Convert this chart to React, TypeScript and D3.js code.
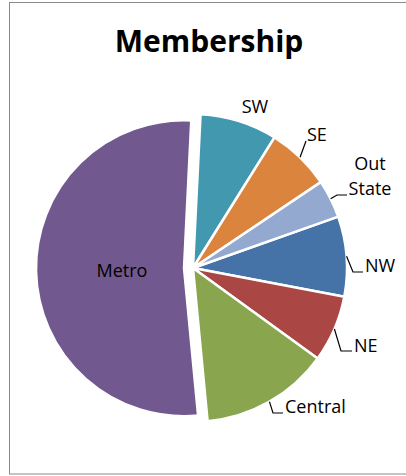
import React from "react";
import * as d3 from "d3";

const categories = ["NW", "NE", "Central", "Metro", "SW", "SE", "Out State"];
const values = [8.4, 7.0, 13.5, 52.3, 8.1, 6.7, 4.0];
const colors = ["#4572A7", "#AA4643", "#89A54E", "#71588F", "#4198AF", "#DB843D", "#93A9CF"];
const title = "Membership";

// layout (not data)
const W = 406;
const H = 476;
const CX = 193;
const CY = 268;
const R = 154;
const EXPLODED = "Metro";
const EXPLODE_OFFSET = 9;
const EXPLODED_R = 148;
const START_DEG = 70.5;

type LabelLayout = {
  x: number;
  y: number;
  anchor: "start" | "middle" | "end";
  lines: string[];
  leader?: { ex: number; ey: number; knee: number };
};

const labelLayout: Record<string, LabelLayout> = {
  NW: { x: 365, y: 272, anchor: "start", lines: ["NW"], leader: { ex: 363, ey: 272, knee: 10 } },
  NE: { x: 354, y: 352, anchor: "start", lines: ["NE"], leader: { ex: 352, ey: 351, knee: 11 } },
  Central: { x: 285, y: 413, anchor: "start", lines: ["Central"], leader: { ex: 283, ey: 413, knee: 10 } },
  Metro: { x: 122, y: 277, anchor: "middle", lines: ["Metro"] },
  SW: { x: 255, y: 113, anchor: "middle", lines: ["SW"] },
  SE: { x: 307, y: 141, anchor: "start", lines: ["SE"], leader: { ex: 306, ey: 141, knee: 0 } },
  "Out State": { x: 370, y: 170, anchor: "middle", lines: ["Out", "State"], leader: { ex: 347, ey: 195, knee: 10 } },
};

const FONT = "'Open Sans', 'Noto Sans', sans-serif";

export default function App() {
  const pie = d3
    .pie<number>()
    .sort(null)
    .value((d) => d)
    .startAngle((START_DEG * Math.PI) / 180)
    .endAngle((START_DEG * Math.PI) / 180 + 2 * Math.PI);
  const arcs = pie(values);
  const arc = d3.arc<d3.PieArcDatum<number>>().innerRadius(0).outerRadius(R);
  const arcEx = d3.arc<d3.PieArcDatum<number>>().innerRadius(0).outerRadius(EXPLODED_R);

  return (
    <div style={{ position: "absolute", left: 0, top: 0 }}>
      <svg width={W} height={H} style={{ display: "block" }}>
        <rect x={0} y={0} width={W} height={H} fill="#ffffff" />
        <rect x={9.5} y={2.5} width={420} height={471.5} fill="none" stroke="#8a8a8a" strokeWidth={1} />
        <text
          x={209}
          y={52}
          textAnchor="middle"
          fontFamily={FONT}
          fontWeight={700}
          fontSize={30}
          fill="#000"
        >
          {title}
        </text>
        <g>
          {arcs.map((a, i) => {
            const name = categories[i];
            const mid = (a.startAngle + a.endAngle) / 2;
            const isEx = name === EXPLODED;
            const dx = isEx ? EXPLODE_OFFSET * Math.sin(mid) : 0;
            const dy = isEx ? -EXPLODE_OFFSET * Math.cos(mid) : 0;
            return (
              <path
                key={name}
                d={(isEx ? arcEx(a) : arc(a)) || ""}
                transform={`translate(${CX + dx},${CY + dy})`}
                fill={colors[i]}
                stroke="#ffffff"
                strokeWidth={2.5}
                strokeLinejoin="round"
              />
            );
          })}
        </g>
        <g>
          {arcs.map((a, i) => {
            const name = categories[i];
            const L = labelLayout[name];
            if (!L || !L.leader) return null;
            const mid = (a.startAngle + a.endAngle) / 2;
            const sx = CX + R * Math.sin(mid);
            const sy = CY - R * Math.cos(mid);
            const kx = L.leader.ex - L.leader.knee;
            const ky = L.leader.ey;
            return (
              <path
                key={name + "-leader"}
                d={`M${sx},${sy}L${kx},${ky}L${L.leader.ex},${L.leader.ey}`}
                fill="none"
                stroke="#000"
                strokeWidth={1.2}
              />
            );
          })}
        </g>
        <g fontFamily={FONT} fontSize={18} fill="#000">
          {categories.map((name) => {
            const L = labelLayout[name];
            return (
              <text key={name + "-label"} x={L.x} y={L.y} textAnchor={L.anchor}>
                {L.lines.map((ln, j) => (
                  <tspan key={j} x={L.x} dy={j === 0 ? 0 : 25}>
                    {ln}
                  </tspan>
                ))}
              </text>
            );
          })}
        </g>
      </svg>
    </div>
  );
}
